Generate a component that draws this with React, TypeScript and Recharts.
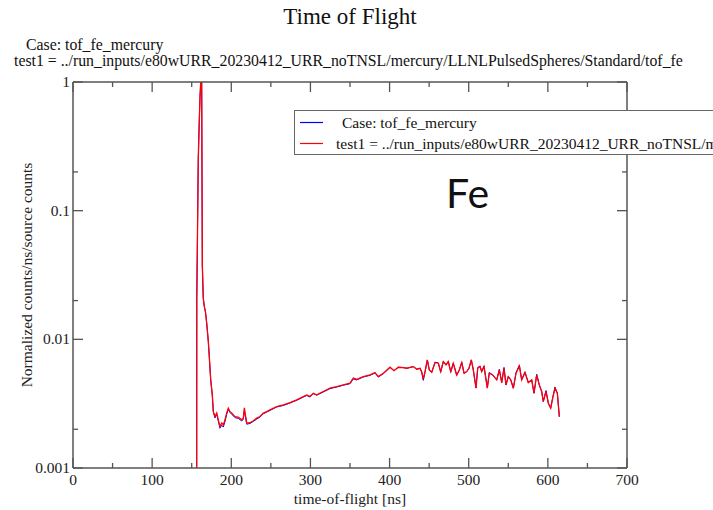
import React from "react";
import { LineChart, Line, XAxis, YAxis } from "recharts";

// time-of-flight bins [ns]
const times = [
  156, 156.4, 158.3, 159.6, 160.5, 161.4, 162.6, 163.4, 164.6, 165.9, 167.4,
  168.9, 171.0, 172.2, 174.0, 176.0, 177.3, 179.4, 181.6, 183.6, 185.7, 187.9,
  189.9, 192.1, 194.2, 196.2, 198.4, 200.5, 204.7, 208.9, 213.2, 215.2, 216.5,
  219.5, 223.7, 227.8, 232.1, 236.3, 240.5, 244.8, 248.9, 257.4, 265.7, 274.2,
  282.7, 291.0, 295.3, 299.5, 303.6, 307.9, 316.3, 324.7, 333.2, 341.5, 350.0,
  354.2, 358.5, 366.8, 375.3, 381.6, 385.8, 392.1, 400.6, 405.6, 411.0, 417.4,
  421.7, 430.0, 434.3, 438.5, 440.6, 442.6, 444.8, 447.7, 450.2, 453.3, 457.4,
  461.6, 464.6, 467.9, 471.3, 474.2, 477.3, 480.5, 484.8, 488.1, 491.2, 494.1,
  497.5, 500.4, 503.3, 505.8, 509.2, 511.4, 514.3, 516.4, 519.3, 523.5, 526.0,
  530.3, 535.4, 538.7, 541.7, 544.6, 547.1, 550.0, 553.1, 556.4, 559.8, 564.0,
  566.9, 571.1, 575.3, 579.6, 582.5, 585.9, 589.2, 592.2, 594.2, 597.7, 600.6,
  603.6, 606.1, 609.0, 612.0, 614.5,
];

// Case: tof_fe_mercury
const caseValues = [
  0.000001, 0.0202, 0.255, 0.507, 0.769, 1.0, 1.0, 0.0379, 0.0209, 0.018, 0.0163,
  0.0134, 0.0096, 0.00734, 0.00484, 0.0037, 0.00274, 0.00245, 0.00262, 0.00232,
  0.00204, 0.00215, 0.00208, 0.0023, 0.00262, 0.00285, 0.0027, 0.00262, 0.00246,
  0.00243, 0.00232, 0.0024, 0.0028, 0.00219, 0.00222, 0.0023, 0.0024, 0.00249,
  0.00264, 0.00272, 0.0028, 0.00298, 0.00306, 0.0032, 0.00336, 0.00356, 0.00366,
  0.00356, 0.00378, 0.00368, 0.0039, 0.00414, 0.00426, 0.0044, 0.00452, 0.00492,
  0.00484, 0.0051, 0.00525, 0.00548, 0.0051, 0.0054, 0.00605, 0.0057, 0.00606,
  0.00603, 0.00596, 0.00614, 0.00586, 0.00596, 0.00556, 0.0048, 0.00556, 0.0069,
  0.00578, 0.00555, 0.00665, 0.00655, 0.00555, 0.00675, 0.00632, 0.00675, 0.00556,
  0.00652, 0.00525, 0.00578, 0.00665, 0.00545, 0.00561, 0.00596, 0.00692, 0.00578,
  0.0042, 0.00605, 0.0062, 0.00561, 0.0062, 0.0042, 0.00552, 0.00529, 0.00484,
  0.00585, 0.00461, 0.00605, 0.00442, 0.00513, 0.00484, 0.00417, 0.00552, 0.0063,
  0.00484, 0.00558, 0.00461, 0.00484, 0.00381, 0.00535, 0.00442, 0.00393, 0.00328,
  0.004, 0.00319, 0.00292, 0.00352, 0.00425, 0.00381, 0.0025,
];

// test1 = ../run_inputs/e80wURR_20230412_URR_noTNSL/...
const test1Values = [
  0.000001, 0.0202, 0.255, 0.507, 0.769, 1.0, 1.0, 0.0379, 0.0209, 0.018, 0.0163,
  0.0134, 0.0096, 0.00734, 0.00484, 0.0037, 0.00274, 0.00251, 0.00268, 0.00237,
  0.0021, 0.00224, 0.00216, 0.00237, 0.00268, 0.00292, 0.00274, 0.00268, 0.00251,
  0.00249, 0.00237, 0.00244, 0.00293, 0.00223, 0.00225, 0.00233, 0.00244, 0.00251,
  0.00267, 0.00274, 0.00283, 0.003, 0.00309, 0.00322, 0.00338, 0.00359, 0.0037,
  0.00359, 0.00381, 0.0037, 0.00393, 0.00417, 0.00429, 0.00442, 0.00456, 0.00501,
  0.00488, 0.00513, 0.00529, 0.00551, 0.00513, 0.00545, 0.00607, 0.00571, 0.00607,
  0.00603, 0.00596, 0.00614, 0.00586, 0.00596, 0.00561, 0.0049, 0.00561, 0.00692,
  0.00578, 0.00555, 0.00659, 0.00652, 0.00561, 0.00671, 0.00632, 0.00671, 0.00561,
  0.00652, 0.00529, 0.00578, 0.00659, 0.00545, 0.00561, 0.00596, 0.00692, 0.00578,
  0.00417, 0.00596, 0.00614, 0.00561, 0.00614, 0.00417, 0.00545, 0.00529, 0.00484,
  0.00578, 0.00461, 0.00596, 0.00442, 0.00513, 0.00484, 0.00417, 0.00545, 0.00621,
  0.00484, 0.00551, 0.00461, 0.00484, 0.00381, 0.00529, 0.00442, 0.00393, 0.00328,
  0.00393, 0.00319, 0.00292, 0.00348, 0.00417, 0.00381, 0.00251,
];

const xTicks = [0, 50, 100, 150, 200, 250, 300, 350, 400, 450, 500, 550, 600, 650, 700];
const yTicks = [0.001, 0.002, 0.01, 0.02, 0.1, 0.2, 1];
const yLabels: Record<number, string> = { 0.001: "0.001", 0.01: "0.01", 0.1: "0.1", 1: "1" };

const caseLabel = "Case: tof_fe_mercury";
const test1Label =
  "test1 = ../run_inputs/e80wURR_20230412_URR_noTNSL/mercury/LLNLPulsedSpheres/Standard/tof_fe";

const data = times.map((t, i) => ({
  t,
  caseV: caseValues[i],
  test1: test1Values[i],
}));

const serif = "'Liberation Serif', 'DejaVu Serif', serif";
const frame = "#555";
const fs = 15.5;

const isMajorX = (v: number) => v % 100 === 0;
const isMajorY = (v: number) => yLabels[v] !== undefined;

function BottomTick({ x, y, payload }: any) {
  const major = isMajorX(payload.value);
  return (
    <g>
      <line x1={x} x2={x} y1={y} y2={y - (major ? 10 : 5)} stroke={frame} strokeWidth={1.3} />
      {major && (
        <text x={x} y={y + 17} textAnchor="middle" fontFamily={serif} fontSize={fs} fill="#222">
          {payload.value}
        </text>
      )}
    </g>
  );
}

function TopTick({ x, y, payload }: any) {
  const major = isMajorX(payload.value);
  return <line x1={x} x2={x} y1={y} y2={y + (major ? 10 : 5)} stroke={frame} strokeWidth={1.3} />;
}

function LeftTick({ x, y, payload }: any) {
  const major = isMajorY(payload.value);
  return (
    <g>
      <line x1={x} x2={x + (major ? 10 : 5)} y1={y} y2={y} stroke={frame} strokeWidth={1.3} />
      {major && (
        <text x={x - 3} y={y + 5} textAnchor="end" fontFamily={serif} fontSize={fs} fill="#222">
          {yLabels[payload.value]}
        </text>
      )}
    </g>
  );
}

function RightTick({ x, y, payload }: any) {
  const major = isMajorY(payload.value);
  return <line x1={x} x2={x - (major ? 10 : 5)} y1={y} y2={y} stroke={frame} strokeWidth={1.3} />;
}

function LegendBox() {
  const row = (color: string, label: string, indent: number) => (
    <div style={{ display: "flex", alignItems: "center", height: 21 }}>
      <svg width={28} height={3} style={{ flexShrink: 0 }}>
        <line x1={5} x2={28} y1={1.5} y2={1.5} stroke={color} strokeWidth={1.2} />
      </svg>
      <span style={{ marginLeft: indent, whiteSpace: "nowrap", flexShrink: 0 }}>{label}</span>
    </div>
  );
  return (
    <div
      style={{
        position: "absolute",
        left: 294,
        top: 110,
        border: "1px solid #666",
        background: "#fff",
        width: 430,
        height: 45,
        boxSizing: "border-box",
        fontFamily: serif,
        fontSize: fs,
        color: "#111",
        paddingTop: 1,
        overflow: "hidden",
      }}
    >
      {row("#0000ff", caseLabel, 19)}
      {row("#ff0000", test1Label, 13)}
    </div>
  );
}

export default function App() {
  return (
    <div
      style={{
        position: "absolute",
        left: 0,
        top: 0,
        width: 713,
        height: 510,
        overflow: "hidden",
        background: "#fff",
        fontFamily: serif,
        color: "#111",
      }}
    >
      <div style={{ position: "absolute", top: 4, left: 0, width: 700, textAlign: "center", fontSize: 23 }}>
        Time of Flight
      </div>
      <div style={{ position: "absolute", top: 36, left: 26, fontSize: 15.8, whiteSpace: "nowrap" }}>
        {caseLabel}
      </div>
      <div style={{ position: "absolute", top: 52, left: 14, fontSize: 15.8, whiteSpace: "nowrap" }}>
        {test1Label}
      </div>
      <LineChart
        width={713}
        height={510}
        data={data}
        margin={{ top: 72, right: 76, bottom: 0, left: 13 }}
      >
        <XAxis
          dataKey="t"
          type="number"
          domain={[0, 700]}
          ticks={xTicks}
          allowDataOverflow
          tickSize={0}
          tickMargin={0}
          height={42}
          axisLine={{ stroke: frame, strokeWidth: 1.5 }}
          tick={<BottomTick />}
          interval={0}
          label={{
            value: "time-of-flight [ns]",
            position: "insideBottom",
            offset: 6,
            style: { fontFamily: serif, fontSize: fs, fill: "#222" },
          }}
        />
        <XAxis
          xAxisId="top"
          orientation="top"
          dataKey="t"
          type="number"
          domain={[0, 700]}
          ticks={xTicks}
          allowDataOverflow
          tickSize={0}
          tickMargin={0}
          height={10}
          axisLine={{ stroke: frame, strokeWidth: 1.5 }}
          tick={<TopTick />}
          interval={0}
        />
        <YAxis
          scale="log"
          type="number"
          domain={[0.001, 1]}
          ticks={yTicks}
          allowDataOverflow
          tickSize={0}
          tickMargin={0}
          width={60}
          axisLine={{ stroke: frame, strokeWidth: 1.5 }}
          tick={<LeftTick />}
          interval={0}
          label={{
            value: "Normalized counts/ns/source counts",
            angle: -90,
            position: "insideLeft",
            offset: 13,
            style: { textAnchor: "middle", fontFamily: serif, fontSize: fs, fill: "#222" },
          }}
        />
        <YAxis
          yAxisId="right"
          orientation="right"
          scale="log"
          type="number"
          domain={[0.001, 1]}
          ticks={yTicks}
          allowDataOverflow
          tickSize={0}
          tickMargin={0}
          width={10}
          axisLine={{ stroke: frame, strokeWidth: 1.5 }}
          tick={<RightTick />}
          interval={0}
        />
        <Line
          dataKey="caseV"
          type="linear"
          stroke="#0000ff"
          strokeWidth={1}
          dot={false}
          isAnimationActive={false}
        />
        <Line
          dataKey="test1"
          type="linear"
          stroke="#ff0000"
          strokeWidth={1.3}
          dot={false}
          isAnimationActive={false}
        />
      </LineChart>
      <LegendBox />
      <div
        style={{
          position: "absolute",
          left: 446,
          top: 168,
          fontFamily: "Lato, 'Noto Sans', sans-serif",
          fontSize: 41,
          color: "#111",
        }}
      >
        Fe
      </div>
    </div>
  );
}
